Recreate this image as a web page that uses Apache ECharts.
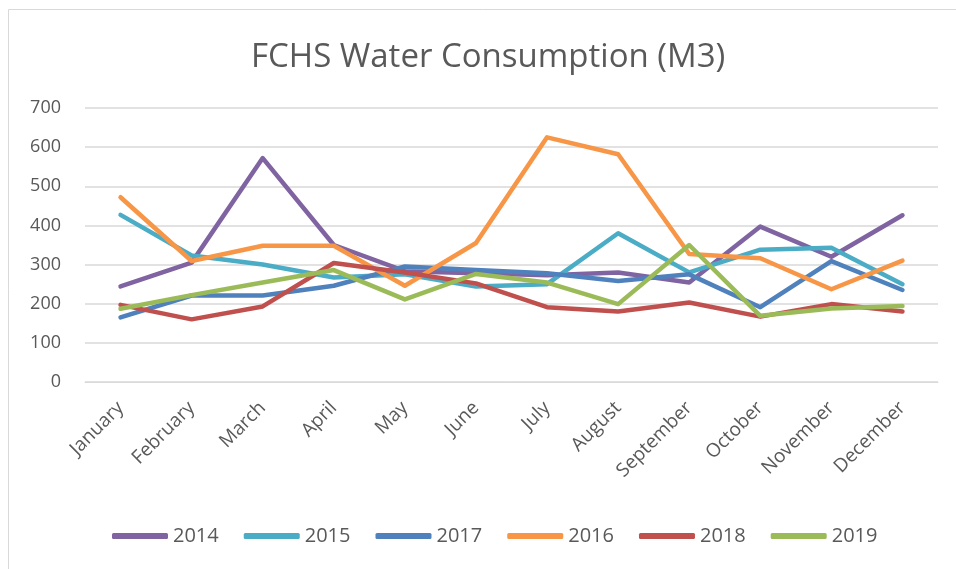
<!DOCTYPE html>
<html>
<head>
<meta charset="utf-8">
<script src="https://cdn.jsdelivr.net/npm/echarts@6/dist/echarts.min.js"></script>
<style>
html,body{margin:0;padding:0;background:#fff;}
#main{width:956px;height:569px;}
</style>
</head>
<body>
<div id="main"></div>
<script>
var months=['January','February','March','April','May','June','July','August','September','October','November','December'];
var yTicks=[0,100,200,300,400,500,600,700];
var years=['2014','2015','2017','2016','2018','2019'];
var d2014=[244,305,572,350,283,278,273,280,254,397,320,426];
var d2015=[427,323,300,267,275,244,250,380,280,338,343,250];
var d2017=[165,221,221,246,295,286,278,258,275,191,309,235];
var d2016=[472,309,348,348,246,355,625,582,327,316,237,310];
var d2018=[197,160,193,304,280,252,191,180,203,167,199,180];
var d2019=[187,222,254,286,211,276,254,199,350,169,188,194];
var colors=['#8064a2','#4bacc6','#4f81bd','#f79646','#c0504d','#9bbb59'];
var allSeries=[d2014,d2015,d2017,d2016,d2018,d2019];

var fontFam='"Open Sans", "Noto Sans", sans-serif';
var chart=echarts.init(document.getElementById('main'));

var series=[];
for(var i=0;i<years.length;i++){
    series.push({
        name:years[i],
        type:'line',
        data:allSeries[i],
        symbol:'none',
        lineStyle:{width:4.5,color:colors[i],cap:'round',join:'round'},
        itemStyle:{color:colors[i]}
    });
}

var option={
    animation:false,
    backgroundColor:'#fff',
    title:{
        text:'FCHS Water Consumption (M3)',
        left:251,
        top:41,
        padding:0,
        textStyle:{fontFamily:fontFam,fontSize:33,fontWeight:'normal',color:'#595959'}
    },
    graphic:[{
        type:'rect',
        shape:{x:8.5,y:9.5,width:1000,height:1000},
        style:{fill:'none',stroke:'#d9d9d9',lineWidth:1}
    }],
    legend:{
        data:years,
        top:521,
        left:107,
        icon:'roundRect',
        itemWidth:56,
        itemHeight:6,
        itemGap:25,
        textStyle:{fontFamily:fontFam,fontSize:20,color:'#595959'}
    },
    grid:{left:85,right:18,top:108,bottom:187,containLabel:false},
    xAxis:{
        type:'category',
        data:months,
        boundaryGap:true,
        axisLine:{show:true,lineStyle:{color:'#d9d9d9',width:1}},
        axisTick:{show:false},
        axisLabel:{rotate:45,fontFamily:fontFam,fontSize:19,color:'#595959',margin:23,interval:0}
    },
    yAxis:{
        type:'value',
        min:0,
        max:700,
        interval:100,
        axisLine:{show:false},
        axisTick:{show:false},
        splitLine:{lineStyle:{color:'#d9d9d9',width:1.5}},
        axisLabel:{fontFamily:fontFam,fontSize:18,color:'#595959',margin:24}
    },
    series:series
};
chart.setOption(option);
</script>
</body>
</html>
